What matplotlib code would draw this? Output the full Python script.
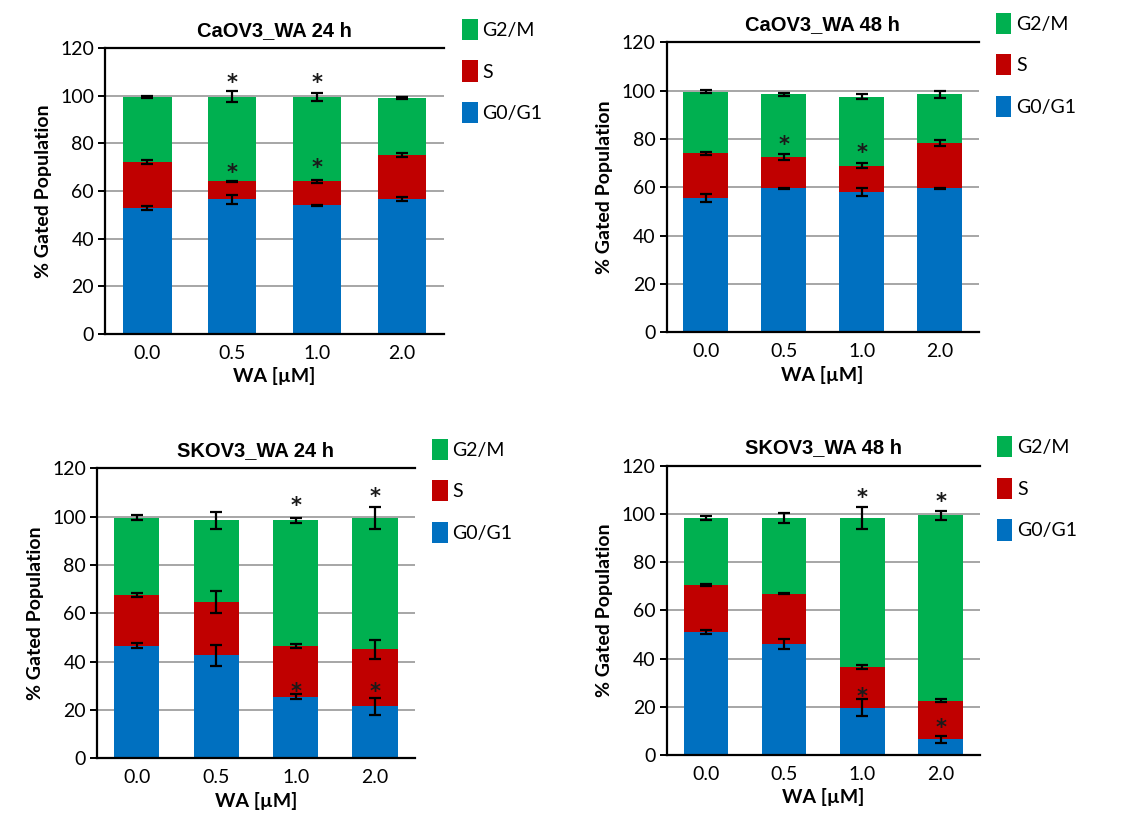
"""
plot.py - stacked cell-cycle bars for CaOV3 / SKOV3 treated with WA.
"""
import numpy as np
import matplotlib
matplotlib.use("Agg")
import matplotlib.pyplot as plt
from matplotlib.patches import Patch

DOSES = ["0.0", "0.5", "1.0", "2.0"]
PHASES = ["G0/G1", "S", "G2/M"]
COLORS = {"G0/G1": "#0070C0", "S": "#C00000", "G2/M": "#00B050"}

# --- CaOV3 24 h
caov3_24_g0g1 = [53.0, 56.5, 54.0, 56.5]
caov3_24_s = [19.0, 7.5, 10.0, 18.5]
caov3_24_g2m = [27.5, 35.5, 35.5, 24.0]
caov3_24_err_g0g1 = [0.8, 2.0, 0.3, 0.8]
caov3_24_err_s = [0.8, 0.3, 0.8, 0.8]
caov3_24_err_g2m = [0.3, 2.3, 1.5, 0.3]
caov3_24_stars = [(1, 107), (2, 107), (1, 69), (2, 71)]

# --- CaOV3 48 h
caov3_48_g0g1 = [55.5, 59.5, 58.0, 59.5]
caov3_48_s = [18.5, 13.0, 11.0, 19.0]
caov3_48_g2m = [25.5, 26.0, 28.5, 20.0]
caov3_48_err_g0g1 = [1.8, 0.2, 1.5, 0.3]
caov3_48_err_s = [0.8, 1.2, 1.2, 1.2]
caov3_48_err_g2m = [0.6, 0.7, 1.0, 1.5]
caov3_48_stars = [(1, 79), (2, 75.5)]

# --- SKOV3 24 h
skov3_24_g0g1 = [46.5, 42.5, 25.5, 21.5]
skov3_24_s = [21.0, 22.0, 21.0, 23.5]
skov3_24_g2m = [32.0, 34.0, 52.0, 54.5]
skov3_24_err_g0g1 = [1.0, 4.5, 1.0, 3.5]
skov3_24_err_s = [0.8, 4.5, 0.8, 4.0]
skov3_24_err_g2m = [1.0, 3.5, 1.0, 4.5]
skov3_24_stars = [(2, 106), (3, 109.5), (2, 29), (3, 29)]

# --- SKOV3 48 h
skov3_48_g0g1 = [51.0, 46.0, 19.5, 6.5]
skov3_48_s = [19.5, 21.0, 17.0, 16.0]
skov3_48_g2m = [28.0, 31.5, 62.0, 77.0]
skov3_48_err_g0g1 = [0.8, 2.0, 3.5, 1.5]
skov3_48_err_s = [0.3, 0.2, 1.0, 0.5]
skov3_48_err_g2m = [0.8, 2.0, 4.5, 1.8]
skov3_48_stars = [(2, 108), (3, 106.5), (2, 25.5), (3, 12.5)]

PANELS = [
    ("CaOV3_WA 24 h", caov3_24_g0g1, caov3_24_s, caov3_24_g2m,
     caov3_24_err_g0g1, caov3_24_err_s, caov3_24_err_g2m, caov3_24_stars),
    ("CaOV3_WA 48 h", caov3_48_g0g1, caov3_48_s, caov3_48_g2m,
     caov3_48_err_g0g1, caov3_48_err_s, caov3_48_err_g2m, caov3_48_stars),
    ("SKOV3_WA 24 h", skov3_24_g0g1, skov3_24_s, skov3_24_g2m,
     skov3_24_err_g0g1, skov3_24_err_s, skov3_24_err_g2m, skov3_24_stars),
    ("SKOV3_WA 48 h", skov3_48_g0g1, skov3_48_s, skov3_48_g2m,
     skov3_48_err_g0g1, skov3_48_err_s, skov3_48_err_g2m, skov3_48_stars),
]

# axes rectangles in figure fractions [left, bottom, width, height]
RECTS = [
    [0.093, 0.591, 0.300, 0.350],
    [0.590, 0.593, 0.276, 0.355],
    [0.086, 0.071, 0.281, 0.355],
    [0.590, 0.075, 0.277, 0.354],
]

TICK_FONT = "Lato"
TITLE_FONT = "Liberation Sans"


def draw_panel(ax, title, g0g1, s, g2m, e0, e1, e2, stars):
    x = np.arange(len(DOSES))
    g0g1 = np.array(g0g1)
    s = np.array(s)
    g2m = np.array(g2m)
    width = 0.57

    ax.set_axisbelow(True)
    ax.yaxis.grid(True, color="#a6a6a6", linewidth=1.4)

    ax.bar(x, g0g1, width, color=COLORS["G0/G1"], label="G0/G1", zorder=2)
    ax.bar(x, s, width, bottom=g0g1, color=COLORS["S"], label="S", zorder=2)
    ax.bar(x, g2m, width, bottom=g0g1 + s, color=COLORS["G2/M"],
           label="G2/M", zorder=2)

    tops = [g0g1, g0g1 + s, g0g1 + s + g2m]
    for top, err in zip(tops, [e0, e1, e2]):
        ax.errorbar(x, top, yerr=err, fmt="none", ecolor="black",
                    elinewidth=1.6, capsize=4.5, capthick=1.6, zorder=3)

    for i, yv in stars:
        ax.text(x[i], yv - 1.5, "*", ha="center", va="center", fontsize=15,
                color="#1a1a1a", fontweight="bold", family="DejaVu Sans",
                zorder=4)

    ax.set_xlim(-0.5, len(DOSES) - 0.5)
    ax.set_ylim(0, 120)
    ax.set_yticks(range(0, 121, 20))
    ax.set_xticks(x)
    ax.set_xticklabels(DOSES)
    for lab in ax.get_xticklabels() + ax.get_yticklabels():
        lab.set_family(TICK_FONT)
        lab.set_fontsize(14)
    ax.tick_params(axis="x", length=0, pad=8)
    ax.tick_params(axis="y", length=5, width=1.4, direction="out", pad=3)

    for side in ["top", "left", "bottom"]:
        ax.spines[side].set_linewidth(1.6)
        ax.spines[side].set_color("black")
    ax.spines["right"].set_visible(False)

    ax.set_title(title, fontsize=14.5, fontweight="bold", family=TITLE_FONT,
                 pad=9)
    ax.set_xlabel("WA [µM]", fontsize=14, fontweight="bold",
                  family=TICK_FONT, labelpad=4)
    ax.set_ylabel("% Gated Population", fontsize=14, fontweight="bold",
                  family=TICK_FONT, labelpad=6)

    handles = [Patch(facecolor=COLORS[p]) for p in ["G2/M", "S", "G0/G1"]]
    ax.legend(handles, ["G2/M", "S", "G0/G1"], loc="upper left",
              bbox_to_anchor=(1.03, 1.13), frameon=False,
              prop={"family": TICK_FONT, "size": 14},
              handlelength=0.8, handleheight=1.3, handletextpad=0.25,
              labelspacing=1.05, borderaxespad=0)


def main():
    fig = plt.figure(figsize=(11.3, 8.16), dpi=100)
    for rect, panel in zip(RECTS, PANELS):
        ax = fig.add_axes(rect)
        draw_panel(ax, *panel)
    fig.savefig("out.png", dpi=100, facecolor="white")
    plt.close(fig)


if __name__ == "__main__":
    main()
